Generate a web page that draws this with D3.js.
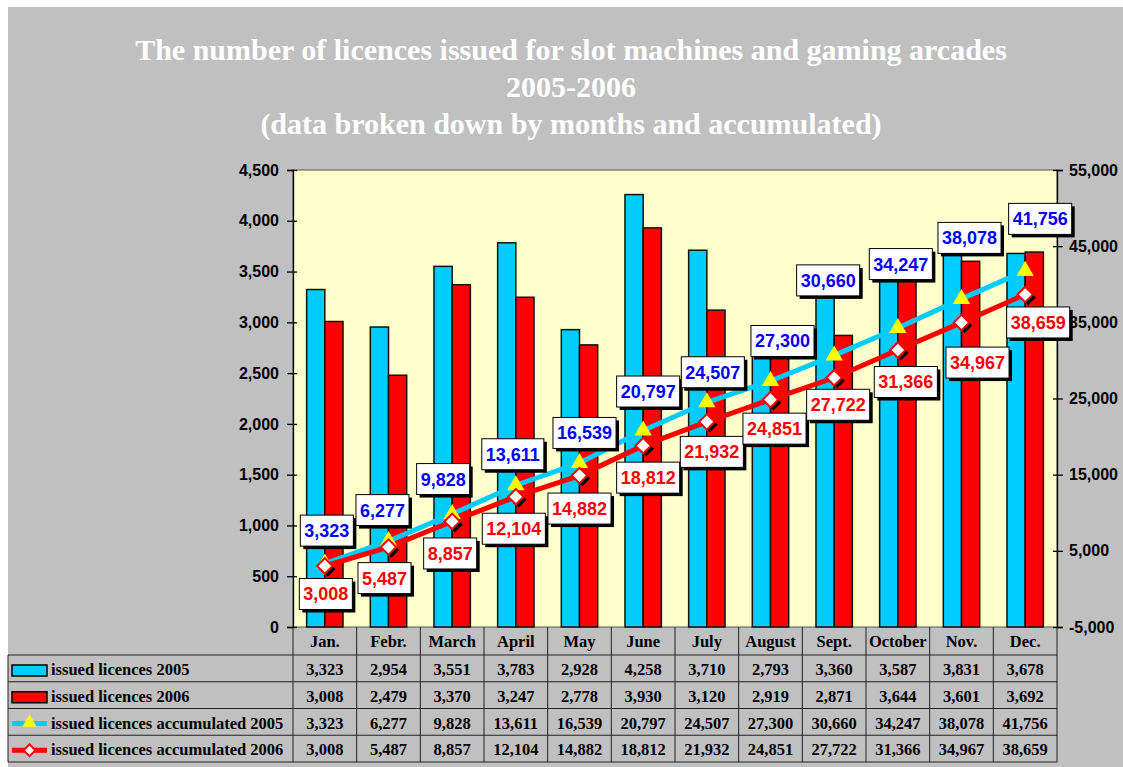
<!DOCTYPE html>
<html>
<head>
<meta charset="utf-8">
<script src="https://cdn.jsdelivr.net/npm/d3@7"></script>
<style>
  body { margin: 0; background: #fff; }
  .axis text { font-family: Arial, "Liberation Sans", sans-serif; font-weight: bold; font-size: 16px; fill: #000; }
  .axis path, .axis line { stroke: #000; stroke-width: 1.3; }
  .tbl { font-family: "Times New Roman", "Liberation Serif", serif; font-weight: bold; font-size: 16.5px; fill: #000; }
  .lbl { font-family: Arial, "Liberation Sans", sans-serif; font-weight: bold; font-size: 18px; }
</style>
</head>
<body>
<svg id="chart" width="1123" height="767"></svg>
<script>
var titleLines = [
    "The number of licences issued for slot machines and gaming arcades",
    "2005-2006",
    "(data broken down by months and accumulated)"
];
var months = ["Jan.", "Febr.", "March", "April", "May", "June", "July", "August", "Sept.", "October", "Nov.", "Dec."];
var issued2005 = [3323, 2954, 3551, 3783, 2928, 4258, 3710, 2793, 3360, 3587, 3831, 3678];
var issued2006 = [3008, 2479, 3370, 3247, 2778, 3930, 3120, 2919, 2871, 3644, 3601, 3692];
var accumulated2005 = [3323, 6277, 9828, 13611, 16539, 20797, 24507, 27300, 30660, 34247, 38078, 41756];
var accumulated2006 = [3008, 5487, 8857, 12104, 14882, 18812, 21932, 24851, 27722, 31366, 34967, 38659];
var seriesNames = ["issued licences 2005", "issued licences 2006",
    "issued licences accumulated 2005", "issued licences accumulated 2006"];
var leftTicks = [0, 500, 1000, 1500, 2000, 2500, 3000, 3500, 4000, 4500];
var rightTicks = [-5000, 5000, 15000, 25000, 35000, 45000, 55000];

// hand-placed data label nudges, [dx, dy] in px from the point
var labelShift2005 = [[2,-33],[-6,-31],[-9,-35],[-3,-31],[5,-30],[5,-39],[6,-30],[12,-40],[-6,-75],[3,-64],[8,-61],[15,-52]];
var labelShift2006 = [[1,28],[-4,31],[-2,32],[-2,32],[0,33],[5,32],[5,30],[4,29],[4,27],[8,32],[16,40],[13,28]];

var svg = d3.select("#chart");
var fmt = d3.format(",");

var plot = { left: 293, right: 1057, top: 170, bottom: 627 };

// grey backdrop
svg.append("rect")
    .attr("x", 8).attr("y", 7)
    .attr("width", 1115).attr("height", 760)
    .attr("fill", "#c0c0c0");

// title
svg.append("g").selectAll("text")
    .data(titleLines)
    .enter().append("text")
        .attr("x", 571)
        .attr("y", function(d, i) { return 60 + i * 37; })
        .attr("text-anchor", "middle")
        .attr("fill", "#fff")
        .style("font-family", "'Times New Roman', 'Liberation Serif', serif")
        .style("font-weight", "bold")
        .style("font-size", "30px")
        .text(function(d) { return d; });

var x = d3.scaleBand()
    .domain(months)
    .range([plot.left, plot.right]);

var xBar = d3.scaleBand()
    .domain([0, 1])
    .range([0, x.bandwidth()])
    .paddingOuter(0.75);

var yLeft = d3.scaleLinear().domain([0, 4500]).range([plot.bottom, plot.top]);
var yRight = d3.scaleLinear().domain([-5000, 55000]).range([plot.bottom, plot.top]);

// plot area
svg.append("rect")
    .attr("x", plot.left).attr("y", plot.top)
    .attr("width", plot.right - plot.left).attr("height", plot.bottom - plot.top)
    .attr("fill", "#ffffcc")
    .attr("stroke", "#555")
    .attr("stroke-width", 1);

// bars
var barColors = ["#00ccff", "#ff0000"];
var barSeries = [issued2005, issued2006];
barSeries.forEach(function(values, s) {
    svg.append("g").selectAll("rect")
        .data(values)
        .enter().append("rect")
            .attr("x", function(d, i) { return x(months[i]) + xBar(s); })
            .attr("y", function(d) { return yLeft(d); })
            .attr("width", xBar.bandwidth())
            .attr("height", function(d) { return yLeft(0) - yLeft(d); })
            .attr("fill", barColors[s])
            .attr("stroke", "#111")
            .attr("stroke-width", 1.5);
});

// axes
var leftAxis = svg.append("g")
    .attr("class", "axis")
    .attr("transform", "translate(" + plot.left + ",0)")
    .call(d3.axisLeft(yLeft).tickValues(leftTicks).tickFormat(fmt).tickSizeOuter(0).tickSize(6).tickPadding(8));
leftAxis.selectAll(".tick line").attr("x1", 4);

var rightAxis = svg.append("g")
    .attr("class", "axis")
    .attr("transform", "translate(" + plot.right + ",0)")
    .call(d3.axisRight(yRight).tickValues(rightTicks)
        .tickFormat(function(d) { return fmt(d).replace("\u2212", "-"); })
        .tickSizeOuter(0).tickSize(6).tickPadding(6));
rightAxis.selectAll(".tick line").attr("x1", -4);

// accumulated lines
var cx = function(i) { return x(months[i]) + x.bandwidth() / 2; };

var accLine = d3.line()
    .x(function(d, i) { return cx(i); })
    .y(function(d) { return yRight(d); });

svg.append("path")
    .datum(accumulated2005)
    .attr("d", accLine)
    .attr("fill", "none")
    .attr("stroke", "#00ccff")
    .attr("stroke-width", 5);

svg.append("path")
    .datum(accumulated2006)
    .attr("d", accLine)
    .attr("fill", "none")
    .attr("stroke", "#ff0000")
    .attr("stroke-width", 5);

var triangle = d3.symbol().type(d3.symbolTriangle).size(130);
svg.append("g").selectAll("path")
    .data(accumulated2005)
    .enter().append("path")
        .attr("d", triangle)
        .attr("transform", function(d, i) { return "translate(" + cx(i) + "," + yRight(d) + ")"; })
        .attr("fill", "#ffff00");

var diamond = d3.symbol().type(d3.symbolSquare).size(120);
var diamonds = svg.append("g").selectAll("g")
    .data(accumulated2006)
    .enter().append("g")
        .attr("transform", function(d, i) { return "translate(" + cx(i) + "," + yRight(d) + ")"; });
diamonds.append("path")
    .attr("d", diamond)
    .attr("transform", "translate(3,3) rotate(45)")
    .attr("fill", "#000");
diamonds.append("path")
    .attr("d", diamond)
    .attr("transform", "rotate(45)")
    .attr("fill", "#fff")
    .attr("stroke", "#ff0000")
    .attr("stroke-width", 2);

// data labels
function drawLabels(values, shifts, color) {
    var g = svg.append("g").selectAll("g")
        .data(values)
        .enter().append("g")
            .attr("transform", function(d, i) {
                return "translate(" + (cx(i) + shifts[i][0]) + "," + (yRight(d) + shifts[i][1]) + ")";
            });
    var txt = g.append("text")
        .attr("class", "lbl")
        .attr("text-anchor", "middle")
        .attr("dy", "0.36em")
        .attr("fill", color)
        .text(function(d) { return fmt(d); });
    txt.each(function() {
        var w = this.getComputedTextLength() + 8, h = 31;
        var p = d3.select(this.parentNode);
        p.insert("rect", "text")
            .attr("x", -w / 2 + 3).attr("y", -h / 2 + 3)
            .attr("width", w).attr("height", h)
            .attr("fill", "#000");
        p.insert("rect", "text")
            .attr("x", -w / 2).attr("y", -h / 2)
            .attr("width", w).attr("height", h)
            .attr("fill", "#fff")
            .attr("stroke", "#000")
            .attr("stroke-width", 1);
    });
}
drawLabels(accumulated2005, labelShift2005, "#0000ff");
drawLabels(accumulated2006, labelShift2006, "#ff0000");

// data table
var rowTop = 655, rowH = 26.75;
var tableRows = [issued2005, issued2006, accumulated2005, accumulated2006];
var table = svg.append("g");

// month header
table.selectAll("text.month")
    .data(months)
    .enter().append("text")
        .attr("class", "tbl")
        .attr("x", function(d) { return x(d) + x.bandwidth() / 2; })
        .attr("y", plot.bottom + 20)
        .attr("text-anchor", "middle")
        .text(function(d) { return d; });

tableRows.forEach(function(values, r) {
    table.append("g").selectAll("text")
        .data(values)
        .enter().append("text")
            .attr("class", "tbl")
            .attr("x", function(d, i) { return cx(i); })
            .attr("y", rowTop + r * rowH + 20)
            .attr("text-anchor", "middle")
            .text(function(d) { return fmt(d); });
    table.append("text")
        .attr("class", "tbl")
        .attr("x", 51)
        .attr("y", rowTop + r * rowH + 20)
        .text(seriesNames[r]);
});

// grid of table
var gridColor = "#222";
for (var r = 0; r <= 4; r++) {
    table.append("line")
        .attr("x1", 8).attr("x2", plot.right)
        .attr("y1", rowTop + r * rowH).attr("y2", rowTop + r * rowH)
        .attr("stroke", gridColor);
}
table.append("line")
    .attr("x1", 8).attr("x2", 8)
    .attr("y1", rowTop).attr("y2", rowTop + 4 * rowH)
    .attr("stroke", gridColor);
x.domain().forEach(function(m) {
    table.append("line")
        .attr("x1", x(m)).attr("x2", x(m))
        .attr("y1", plot.bottom).attr("y2", rowTop + 4 * rowH)
        .attr("stroke", gridColor);
});
table.append("line")
    .attr("x1", plot.right).attr("x2", plot.right)
    .attr("y1", plot.bottom).attr("y2", rowTop + 4 * rowH)
    .attr("stroke", gridColor);

// legend keys in the table
var keyX = 12, keyW = 35;
[0, 1].forEach(function(s) {
    table.append("rect")
        .attr("x", keyX).attr("y", rowTop + s * rowH + 10)
        .attr("width", keyW).attr("height", 11)
        .attr("fill", barColors[s])
        .attr("stroke", "#000")
        .attr("stroke-width", 1.5);
});
var keyMid = keyX + keyW / 2;
table.append("line")
    .attr("x1", keyX).attr("x2", keyX + keyW)
    .attr("y1", rowTop + 2 * rowH + 15).attr("y2", rowTop + 2 * rowH + 15)
    .attr("stroke", "#00ccff").attr("stroke-width", 5);
table.append("path")
    .attr("d", d3.symbol().type(d3.symbolTriangle).size(90))
    .attr("transform", "translate(" + keyMid + "," + (rowTop + 2 * rowH + 14) + ")")
    .attr("fill", "#ffff00");
table.append("line")
    .attr("x1", keyX).attr("x2", keyX + keyW)
    .attr("y1", rowTop + 3 * rowH + 15).attr("y2", rowTop + 3 * rowH + 15)
    .attr("stroke", "#ff0000").attr("stroke-width", 5);
table.append("path")
    .attr("d", d3.symbol().type(d3.symbolSquare).size(70))
    .attr("transform", "translate(" + keyMid + "," + (rowTop + 3 * rowH + 15) + ") rotate(45)")
    .attr("fill", "#fff")
    .attr("stroke", "#ff0000")
    .attr("stroke-width", 2);
</script>
</body>
</html>
